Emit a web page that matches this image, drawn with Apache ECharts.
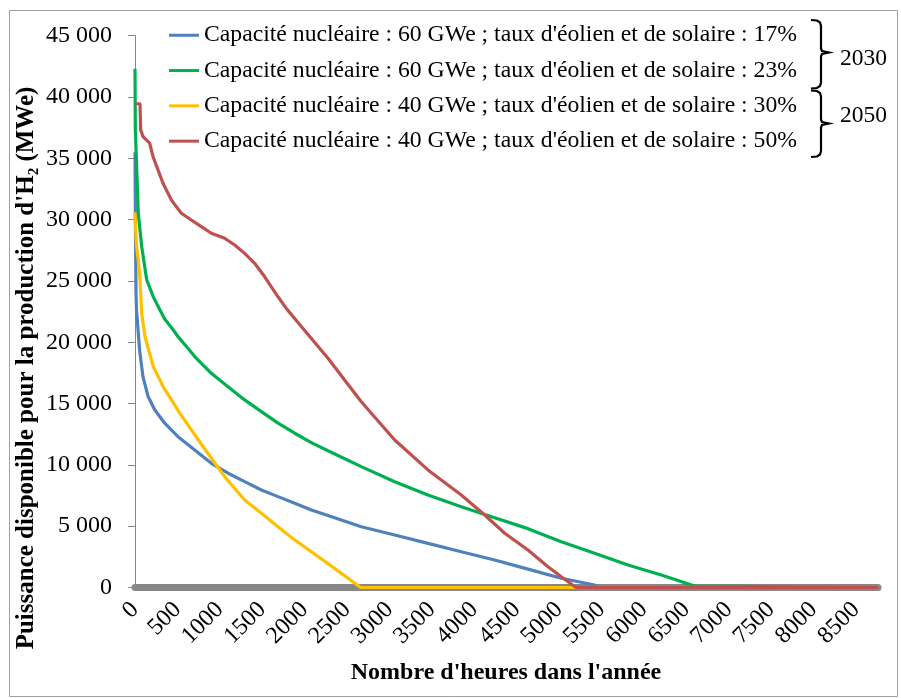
<!DOCTYPE html>
<html>
<head>
<meta charset="utf-8">
<script src="https://cdn.jsdelivr.net/npm/echarts@6/dist/echarts.min.js"></script>
<style>html,body{margin:0;padding:0;background:#fff;}#c{width:901px;height:698px;}</style>
</head>
<body>
<div id="c"></div>
<script>
// Hours (x) and available power in MWe (y)
const blueHours  = [0,5,12,18,55,94,153,232,350,507,704,900,1097,1293,1490,1686,1883,2079,2275,2668,3062,3454,3847,4240,4633,5026,5419,5460,8760];
const blueMW     = [35500,30000,24000,22600,19300,17200,15600,14500,13400,12300,11220,10130,9320,8630,7950,7410,6870,6320,5870,4960,4280,3600,2920,2240,1500,750,200,0,0];
const greenHours = [0,4,39,79,138,216,290,350,452,507,609,704,900,1002,1097,1293,1490,1686,1883,2079,2275,2668,3062,3454,3847,4123,4633,5026,5419,5812,6205,6598,6617,8760];
const greenMW    = [42300,37300,30500,27800,25100,23700,22700,21900,21000,20460,19630,18830,17470,16900,16380,15300,14340,13400,12580,11810,11150,9860,8630,7550,6590,5950,4800,3740,2790,1840,1020,120,0,0];
const yellowHours= [0,15,55,79,118,216,334,531,806,1002,1097,1293,1395,1490,1686,1789,1883,2079,2275,2660,8760];
const yellowMW   = [30600,28070,25620,22350,20450,18000,16360,14180,11460,9560,8700,7140,6560,6050,4960,4380,3880,2920,1950,0,0];
const redHours   = [0,59,67,94,173,212,271,330,428,546,664,782,900,1057,1175,1293,1411,1529,1686,1790,1961,2275,2668,3062,3454,3847,4123,4359,4633,4869,5026,5200,8760];
const redMW      = [39450,39450,37320,36780,36240,35150,34060,32970,31610,30520,29970,29430,28890,28480,27930,27250,26440,25340,23710,22700,21280,18700,15150,12030,9590,7550,5910,4420,3060,1700,880,0,0];

const seriesNames = [
  "Capacité nucléaire : 60 GWe ; taux d'éolien et de solaire : 17%",
  "Capacité nucléaire : 60 GWe ; taux d'éolien et de solaire : 23%",
  "Capacité nucléaire : 40 GWe ; taux d'éolien et de solaire : 30%",
  "Capacité nucléaire : 40 GWe ; taux d'éolien et de solaire : 50%"
];
const groupLabels = ["2030", "2050"];
const xTitle = "Nombre d'heures dans l'année";
const yTitle = "Puissance disponible pour la production d'H₂ (MWe)";

const colors = ['#4F81BD', '#00B050', '#FFC000', '#C0504D'];
const FONT = "'Liberation Serif', 'Times New Roman', serif";

function zip(h, v) { return h.map((x, i) => [x, v[i]]); }
const dataSets = [zip(blueHours, blueMW), zip(greenHours, greenMW), zip(yellowHours, yellowMW), zip(redHours, redMW)];

function bracePoints(top, mid, bot) {
  return [[811, top], [817, top + 0.5], [820, top + 2.5], [821, top + 6],
          [821, mid - 4], [822, mid - 1.5], [829, mid], [822, mid + 1.5], [821, mid + 4],
          [821, bot - 6], [820, bot - 2.5], [817, bot - 0.5], [811, bot]];
}
function txt(x, y, text, font, align, rot) {
  return {type: 'text', x: x, y: y, rotation: rot || 0,
    style: {text: text, font: font, fill: '#000', textAlign: align, textVerticalAlign: 'middle', align: align, verticalAlign: 'middle'}};
}

const chart = echarts.init(document.getElementById('c'), null, {renderer: 'canvas'});
chart.setOption({
  animation: false,
  backgroundColor: '#fff',
  grid: {left: 135, right: 23, top: 35.7, bottom: 110.5, containLabel: false},
  legend: {
    orient: 'vertical', left: 169, top: 22.5, padding: 0,
    itemWidth: 30, itemHeight: 3, itemGap: 9.8, icon: 'rect',
    textStyle: {fontFamily: FONT, fontSize: 23.7, color: '#000', lineHeight: 25.5},
    data: seriesNames
  },
  xAxis: {
    type: 'value', min: 0, max: 8760, interval: 500, offset: 3.5,
    axisLine: {show: true, lineStyle: {color: '#878787', width: 7}},
    axisTick: {show: false},
    splitLine: {show: false},
    axisLabel: {rotate: 45, margin: 15, fontFamily: FONT, fontSize: 24, color: '#000', showMaxLabel: false,
      formatter: v => String(v)}
  },
  yAxis: {
    type: 'value', min: 0, max: 45000, interval: 5000,
    axisLine: {show: true, lineStyle: {color: '#868686', width: 1}},
    axisTick: {show: true, length: 7, lineStyle: {color: '#868686'}},
    splitLine: {show: false},
    axisLabel: {margin: 23, fontFamily: FONT, fontSize: 24, color: '#000',
      formatter: v => v === 0 ? '0' : (Math.floor(v / 1000) + ' 000')}
  },
  series: dataSets.map((d, i) => ({
    name: seriesNames[i], type: 'line', data: d, showSymbol: false, symbol: 'none',
    lineStyle: {color: colors[i], width: 3.2}, itemStyle: {color: colors[i]}, z: 3 + i
  })),
  graphic: [
    {type: 'rect', shape: {x: 9.5, y: 10.5, width: 888, height: 686}, style: {fill: 'none', stroke: '#a0a0a0', lineWidth: 1}, silent: true, z: -1},
    txt(27, 368, yTitle, "bold 25px " + FONT, 'center', Math.PI / 2),
    txt(506, 673, xTitle, "bold 24px " + FONT, 'center'),
    {type: 'polyline', shape: {points: bracePoints(20, 52.5, 88.5)}, style: {fill: null, stroke: '#000', lineWidth: 2.2}},
    {type: 'polyline', shape: {points: bracePoints(90.5, 123.5, 157)}, style: {fill: null, stroke: '#000', lineWidth: 2.2}},
    txt(840, 59, groupLabels[0], "23.5px " + FONT, 'left'),
    txt(840, 116, groupLabels[1], "23.5px " + FONT, 'left')
  ]
});
</script>
</body>
</html>
